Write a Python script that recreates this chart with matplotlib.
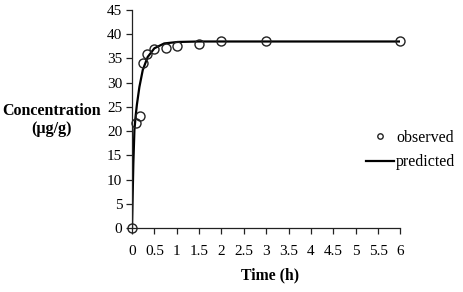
import matplotlib
matplotlib.use("Agg")
import matplotlib.pyplot as plt

# observed data
obs_time = [0, 0.083, 0.17, 0.25, 0.33, 0.5, 0.75, 1.0, 1.5, 2.0, 3.0, 6.0]
obs_conc = [0, 21.7, 23.2, 34.0, 36.0, 36.9, 37.1, 37.5, 38.0, 38.5, 38.5, 38.5]

# predicted curve
pred_time = [0, 0.01, 0.02, 0.03, 0.054, 0.08, 0.11, 0.165, 0.24, 0.35, 0.5, 0.72, 1.02, 1.5, 2.0, 3.0, 6.0]
pred_conc = [0, 4.5, 9.0, 13.3, 20.2, 23.0, 25.5, 29.1, 32.6, 35.3, 37.1, 38.1, 38.4, 38.5, 38.5, 38.5, 38.5]

x_ticks = [0, 0.5, 1, 1.5, 2, 2.5, 3, 3.5, 4, 4.5, 5, 5.5, 6]
x_tick_labels = ["0", "0.5", "1", "1.5", "2", "2.5", "3", "3.5", "4", "4.5", "5", "5.5", "6"]
y_ticks = [0, 5, 10, 15, 20, 25, 30, 35, 40, 45]

plt.rcParams['font.family'] = ['Liberation Serif', 'DejaVu Serif']

W, H = 464, 292
fig = plt.figure(figsize=(W / 100, H / 100), dpi=100)
ax = fig.add_axes([132 / W, 1 - 228 / H, (400.5 - 132) / W, (228 - 10) / H])

ax.plot(pred_time, pred_conc, color='black', lw=1.6, label='predicted', zorder=2)
ax.plot(obs_time, obs_conc, linestyle='none', marker='o', ms=6.5, mfc='none',
        mec='#222222', mew=1.0, label='observed', zorder=3, clip_on=False)

ax.set_xlim(0, 6)
ax.set_ylim(0, 45)
ax.set_xticks(x_ticks)
ax.set_xticklabels(x_tick_labels)
ax.set_yticks(y_ticks)
ax.spines['top'].set_visible(False)
ax.spines['right'].set_visible(False)
for s in ['left', 'bottom']:
    ax.spines[s].set_color('#222222')
    ax.spines[s].set_linewidth(0.9)
ax.tick_params(axis='both', direction='out', length=4, width=0.9, color='#222222',
               labelsize=11, pad=3)
ax.tick_params(axis='x', pad=8)

fig.text(52 / W, 1 - 120 / H, "Concentration\n(µg/g)", ha='center', va='center',
         fontsize=11.5, fontweight='bold', linespacing=1.1)
fig.text(270 / W, 1 - 275.5 / H, "Time (h)", ha='center', va='center',
         fontsize=11.3, fontweight='bold')

handles, labels = ax.get_legend_handles_labels()
order = [1, 0]
leg = fig.legend([handles[i] for i in order], [labels[i] for i in order],
                 loc='center left', bbox_to_anchor=(366.5 / W, 1 - 150 / H),
                 frameon=False, fontsize=11.5, handlelength=1.75, handletextpad=0.1,
                 labelspacing=0.55, borderaxespad=0, borderpad=0, markerscale=0.6)

fig.savefig("out.png", dpi=100)
